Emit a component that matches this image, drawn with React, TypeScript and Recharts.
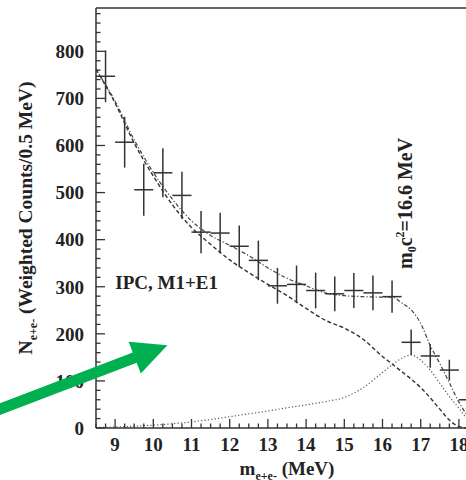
import React from "react";
import {
  ComposedChart,
  Line,
  Scatter,
  ErrorBar,
  XAxis,
  YAxis,
  ReferenceLine,
  ReferenceDot
} from "recharts";

// measured spectrum, 0.5 MeV bins
const binCenters = [
  8.75, 9.25, 9.75, 10.25, 10.75, 11.25, 11.75, 12.25, 12.75, 13.25,
  13.75, 14.25, 14.75, 15.25, 15.75, 16.25, 16.75, 17.25, 17.75, 18.25
];
const counts = [
  747, 607, 506, 542, 494, 416, 414, 386, 356, 302,
  305, 292, 285, 292, 287, 279, 182, 153, 123, 60
];
const countErrors = [
  55, 54, 55, 52, 50, 45, 43, 44, 42, 38,
  40, 38, 37, 37, 37, 34, 27, 25, 22, 20
];
const binHalfWidth = 0.25;

// fit curves
const curveX = [
  8.5, 9, 9.5, 10, 10.5, 11, 11.5, 12, 12.5, 13, 13.5, 14, 14.5, 15, 15.5,
  16, 16.25, 16.5, 16.75, 17, 17.25, 17.5, 17.75, 18, 18.25, 18.5
];
const ipcFit = [
  762, 690, 605, 535, 474, 426, 390, 357, 330, 305, 281, 254, 229, 212, 188,
  152, 136, 120, 104, 86, 64, 40, 17, 3, 0, 0
];
const totalFit = [
  762, 694, 612, 543, 486, 440, 409, 388, 366, 340, 318, 302, 287, 281, 279,
  278, 278, 266, 251, 222, 175, 137, 96, 55, 24, 8
];
const signalFit = [
  1, 2, 4, 6, 9, 13, 18, 24, 30, 36, 43, 49, 56, 65, 86,
  118, 134, 148, 155, 144, 123, 95, 67, 42, 16, 5
];

const xTicks = Array.from({ length: 41 }, (_, i) => 8.5 + i * 0.25);
const yTicks = Array.from({ length: 45 }, (_, i) => i * 20);

const arrowFrom = { x: 5.5, y: 25 };
const arrowTo = { x: 10.37, y: 176 };

const FONT = '"Liberation Serif", "Times New Roman", serif';
const INK = "#333";

const points = binCenters.map((x, i) => ({
  x,
  y: counts[i],
  ey: countErrors[i],
  ex: binHalfWidth
}));
const toCurve = (vals: number[]) => curveX.map((x, i) => ({ x, y: vals[i] }));

function XTick(props: any) {
  const { x, y, payload } = props;
  const v = payload.value;
  const major = Math.abs(v - Math.round(v)) < 1e-6;
  const ay = y - 8;
  return (
    <g>
      <line x1={x} x2={x} y1={ay} y2={ay - (major ? 9 : 4.5)} stroke={INK} strokeWidth={1.3} />
      {major && (
        <text x={x} y={y + 15} textAnchor="middle" fontFamily={FONT} fontWeight="bold" fontSize={19} fill="#222">
          {Math.round(v)}
        </text>
      )}
    </g>
  );
}

function YTick(props: any) {
  const { x, y, payload } = props;
  const v = payload.value;
  const major = v % 100 === 0;
  const ax = x + 12;
  return (
    <g>
      <line x1={ax} x2={ax + (major ? 9 : 4.5)} y1={y} y2={y} stroke={INK} strokeWidth={1.3} />
      {major && (
        <text x={x} y={y} dy="0.36em" textAnchor="end" fontFamily={FONT} fontWeight="bold" fontSize={19} fill="#222">
          {v}
        </text>
      )}
    </g>
  );
}

function YTitle(props: any) {
  const { x, y, height } = props.viewBox;
  const cx = x - 12;
  const cy = y + height / 2;
  return (
    <text
      x={cx}
      y={cy + 8}
      transform={`rotate(-90, ${cx}, ${cy})`}
      textAnchor="middle"
      fontFamily={FONT}
      fontWeight="bold"
      fontSize={19.5}
      fill="#222"
    >
      N<tspan fontSize={12} dy={5}>e+e-</tspan>
      <tspan dy={-5}> (Weighted Counts/0.5 MeV)</tspan>
    </text>
  );
}

function XTitle(props: any) {
  const { x, y, width } = props.viewBox;
  return (
    <text x={x + width / 2} y={y + 47} textAnchor="middle" fontFamily={FONT} fontWeight="bold" fontSize={19} fill="#222">
      m<tspan fontSize={12} dy={5}>e+e-</tspan>
      <tspan dy={-5}> (MeV)</tspan>
    </text>
  );
}

function IpcLabel(props: any) {
  const { x, y } = props.viewBox;
  return (
    <text x={x} y={y} dy="0.35em" textAnchor="middle" fontFamily={FONT} fontWeight="bold" fontSize={19} fill="#222">
      IPC, M1+E1
    </text>
  );
}

function MassLabel(props: any) {
  const { x, y } = props.viewBox;
  return (
    <text
      x={x}
      y={y + 7}
      transform={`rotate(-90, ${x}, ${y})`}
      textAnchor="middle"
      fontFamily={FONT}
      fontWeight="bold"
      fontSize={20}
      fill="#222"
    >
      m<tspan fontSize={12} dy={4}>0</tspan>
      <tspan dy={-4}>c</tspan>
      <tspan fontSize={12} dy={-8}>2</tspan>
      <tspan dy={8}>=16.6 MeV</tspan>
    </text>
  );
}

function ArrowShape(props: any) {
  const { x1, y1, x2, y2 } = props;
  const dx = x2 - x1;
  const dy = y2 - y1;
  const len = Math.hypot(dx, dy);
  const ux = dx / len;
  const uy = dy / len;
  const nx = -uy;
  const ny = ux;
  const headLen = 35;
  const headHalf = 17;
  const shaftHalf = 5.5;
  const bx = x2 - ux * headLen;
  const by = y2 - uy * headLen;
  const pts = [
    [x1 + nx * shaftHalf, y1 + ny * shaftHalf],
    [bx + nx * shaftHalf, by + ny * shaftHalf],
    [bx + nx * headHalf, by + ny * headHalf],
    [x2, y2],
    [bx - nx * headHalf, by - ny * headHalf],
    [bx - nx * shaftHalf, by - ny * shaftHalf],
    [x1 - nx * shaftHalf, y1 - ny * shaftHalf]
  ];
  return <polygon points={pts.map((p) => p.join(",")).join(" ")} fill="#00b050" />;
}

export default function App() {
  return (
    <div style={{ position: "absolute", left: 0, top: 0, width: 466, height: 480, overflow: "hidden", background: "#fff" }}>
      <ComposedChart width={520} height={480} margin={{ top: 8, right: 42, bottom: 22, left: 36 }}>
        <XAxis
          dataKey="x"
          type="number"
          domain={[8.5, 18.5]}
          ticks={xTicks}
          interval={0}
          tickSize={0}
          tickMargin={8}
          tick={<XTick />}
          tickLine={false}
          axisLine={{ stroke: INK, strokeWidth: 1.5 }}
          height={30}
          label={(p: any) => <XTitle {...p} />}
        />
        <YAxis
          type="number"
          domain={[0, 892]}
          ticks={yTicks}
          interval={0}
          tickSize={0}
          tickMargin={12}
          tick={<YTick />}
          tickLine={false}
          axisLine={{ stroke: INK, strokeWidth: 1.5 }}
          width={60}
          label={(p: any) => <YTitle {...p} />}
        />
        <ReferenceLine y={892} stroke={INK} strokeWidth={1.5} />
        <Line
          data={toCurve(signalFit)}
          dataKey="y"
          type="monotone"
          stroke="#555"
          strokeWidth={1.2}
          strokeDasharray="1.2 2.2"
          dot={false}
          isAnimationActive={false}
        />
        <Line
          data={toCurve(ipcFit)}
          dataKey="y"
          type="monotone"
          stroke="#333"
          strokeWidth={1.4}
          strokeDasharray="4 2.5"
          dot={false}
          isAnimationActive={false}
        />
        <Line
          data={toCurve(totalFit)}
          dataKey="y"
          type="monotone"
          stroke="#444"
          strokeWidth={1.2}
          strokeDasharray="4 2 1.2 2"
          dot={false}
          isAnimationActive={false}
        />
        <Scatter data={points} dataKey="y" shape={() => <g />} isAnimationActive={false}>
          <ErrorBar dataKey="ey" direction="y" width={0} stroke="#333" strokeWidth={1.5} isAnimationActive={false} />
          <ErrorBar dataKey="ex" direction="x" width={0} stroke="#333" strokeWidth={1.5} isAnimationActive={false} />
        </Scatter>
        <ReferenceDot x={10.35} y={310} r={0} fill="none" stroke="none" label={(p: any) => <IpcLabel {...p} />} />
        <ReferenceDot x={16.6} y={477} r={0} fill="none" stroke="none" label={(p: any) => <MassLabel {...p} />} />
        <ReferenceLine
          segment={[arrowFrom, arrowTo]}
          ifOverflow="visible"
          shape={ArrowShape}
          zIndex={2500}
        />
      </ComposedChart>
    </div>
  );
}
